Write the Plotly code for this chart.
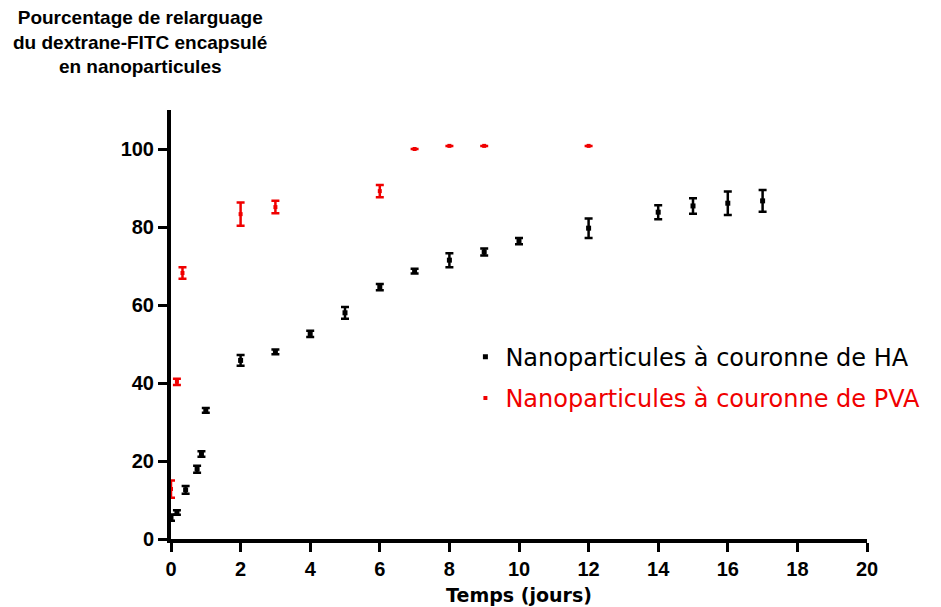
import plotly.graph_objects as go

# HA-coated nanoparticles (black)
ha_t = [0, 0.17, 0.42, 0.75, 0.875, 1, 2, 3, 4, 5, 6, 7, 8, 9, 10, 12, 14, 15, 16, 17]
ha_pct = [5.5, 6.8, 12.6, 17.9, 21.8, 33.0, 45.8, 48.0, 52.6, 58.0, 64.6, 68.7, 71.5, 73.6, 76.4, 79.7, 83.8, 85.4, 86.1, 86.7]
ha_err = [0.8, 0.6, 1.0, 0.9, 0.7, 0.6, 1.4, 0.6, 0.8, 1.5, 0.8, 0.6, 1.8, 0.9, 0.8, 2.5, 1.8, 2.0, 3.0, 2.8]

# PVA-coated nanoparticles (red)
pva_t = [0, 0.17, 0.33, 2, 3, 6, 7, 8, 9, 12]
pva_pct = [12.8, 40.3, 68.2, 83.3, 85.1, 89.2, 100.0, 100.8, 100.8, 100.8]
pva_err = [2.2, 0.8, 1.5, 3.0, 1.6, 1.6, 0, 0, 0, 0]

RED = "#f00000"
fnt = "Liberation Sans, Arial, sans-serif"
wide = "DejaVu Sans, Verdana, sans-serif"

fig = go.Figure()

fig.add_trace(go.Scatter(
    x=ha_t, y=ha_pct, mode="markers",
    name="Nanoparticules à couronne de HA",
    legendgroup="ha",
    marker=dict(symbol="square", size=5, color="black"),
    error_y=dict(type="data", array=ha_err, color="black", thickness=2.5, width=4),
))
fig.add_trace(go.Scatter(
    x=pva_t, y=pva_pct, mode="markers",
    name="<span style='color:%s'>Nanoparticules à couronne de PVA</span>" % RED,
    legendgroup="pva",
    marker=dict(symbol="square", size=4, color=RED),
    error_y=dict(type="data", array=pva_err, color=RED, thickness=2.5, width=4),
))

axis_common = dict(
    showline=True, linecolor="black", linewidth=4,
    ticks="outside", ticklen=9, tickwidth=3, tickcolor="black",
    showgrid=False, zeroline=False, automargin=False,
    tickfont=dict(family=fnt, size=20, color="black", weight="bold"),
)

fig.update_xaxes(range=[0, 20], tickvals=list(range(0, 21, 2)), **axis_common,
                 title=dict(text="<b>Temps (jours)</b>", font=dict(family=wide, size=19, color="black"), standoff=11))
fig.update_yaxes(range=[0, 110], tickvals=list(range(0, 101, 20)), **axis_common)

fig.add_annotation(
    text="<b>Pourcentage de relarguage<br>du dextrane-FITC encapsulé<br>en nanoparticules</b>",
    xref="paper", yref="paper", x=-0.044, y=1.245, xanchor="center", yanchor="top",
    showarrow=False, align="center", font=dict(family=fnt, size=19, color="black"),
)

fig.update_layout(
    width=941, height=607,
    margin=dict(l=163, r=82, t=102, b=76),
    plot_bgcolor="white", paper_bgcolor="white",
    legend=dict(x=0.423, y=0.376, xanchor="left", yanchor="middle",
                traceorder="grouped", tracegroupgap=7,
                font=dict(family=wide, size=24, color="black"),
                bgcolor="rgba(0,0,0,0)"),
)

fig.write_html("out.html")
